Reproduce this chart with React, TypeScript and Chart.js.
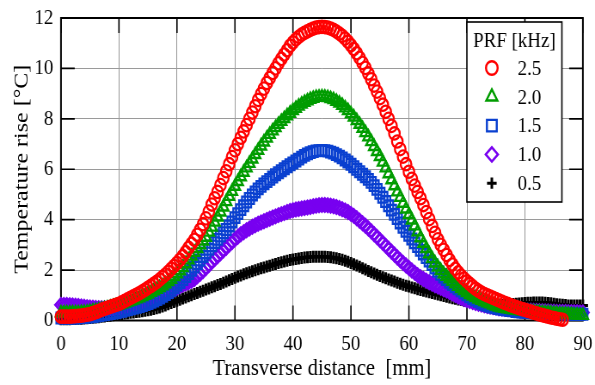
import React, { useEffect, useRef } from "react";
import { Chart, registerables } from "chart.js";

Chart.register(...registerables);

const FONT = "'Liberation Serif', 'Times New Roman', Times, serif";

// ---- data ----
const STEP_MM = 0.5; // sampling step of the transverse distance
const X_TICKS = [0, 10, 20, 30, 40, 50, 60, 70, 80, 90];
const Y_TICKS = [0, 2, 4, 6, 8, 10, 12];
const X_TITLE = "Transverse distance  [mm]";
const Y_TITLE = "Temperature rise [°C]";
const LEGEND_TITLE = "PRF [kHz]";
const PRF_LABELS = ["2.5", "2.0", "1.5", "1.0", "0.5"];

const PRF_25 = [
  0.15, 0.15, 0.15, 0.15, 0.16, 0.17, 0.18, 0.19, 0.21, 0.23, 0.25, 0.29, 0.33, 0.37, 0.42, 0.46, 0.5, 0.54, 0.58, 0.62,
  0.66, 0.72, 0.78, 0.84, 0.9, 0.96, 1.02, 1.08, 1.15, 1.22, 1.3, 1.37, 1.45, 1.53, 1.62, 1.72, 1.82, 1.93, 2.05, 2.16,
  2.28, 2.41, 2.55, 2.71, 2.88, 3.04, 3.2, 3.4, 3.6, 3.82, 4.05, 4.32, 4.6, 4.85, 5.1, 5.37, 5.65, 5.92, 6.2, 6.48,
  6.75, 7.0, 7.25, 7.5, 7.75, 8.0, 8.25, 8.5, 8.75, 8.98, 9.2, 9.42, 9.62, 9.82, 10.0, 10.2, 10.38, 10.55, 10.72, 10.9,
  11.03, 11.15, 11.25, 11.34, 11.41, 11.47, 11.53, 11.58, 11.62, 11.64, 11.65, 11.64, 11.62, 11.58, 11.53, 11.46, 11.38, 11.29, 11.18, 11.06,
  10.92, 10.77, 10.6, 10.42, 10.22, 10.02, 9.8, 9.57, 9.32, 9.08, 8.82, 8.56, 8.28, 8.0, 7.72, 7.42, 7.1, 6.8, 6.5, 6.2,
  5.9, 5.62, 5.35, 5.1, 4.85, 4.58, 4.3, 4.02, 3.75, 3.48, 3.22, 3.0, 2.8, 2.6, 2.4, 2.22, 2.05, 1.91, 1.78, 1.66,
  1.55, 1.45, 1.35, 1.26, 1.18, 1.11, 1.05, 1.0, 0.95, 0.9, 0.85, 0.8, 0.75, 0.7, 0.66, 0.61, 0.57, 0.53, 0.49, 0.45,
  0.42, 0.38, 0.35, 0.31, 0.28, 0.24, 0.21, 0.18, 0.15, 0.12, 0.1, 0.07, 0.05, 0.03,
];

const PRF_20 = [
  0.3, 0.3, 0.3, 0.3, 0.3, 0.3, 0.3, 0.31, 0.32, 0.33, 0.35, 0.37, 0.39, 0.41, 0.44, 0.46, 0.49, 0.52, 0.55, 0.58,
  0.61, 0.65, 0.69, 0.73, 0.77, 0.81, 0.86, 0.9, 0.95, 1.0, 1.05, 1.11, 1.17, 1.23, 1.3, 1.37, 1.45, 1.54, 1.63, 1.74,
  1.85, 1.97, 2.1, 2.25, 2.4, 2.55, 2.7, 2.85, 3.0, 3.15, 3.3, 3.5, 3.7, 3.9, 4.1, 4.3, 4.5, 4.71, 4.92, 5.12,
  5.32, 5.51, 5.7, 5.88, 6.05, 6.23, 6.4, 6.58, 6.75, 6.92, 7.08, 7.23, 7.38, 7.52, 7.65, 7.78, 7.9, 8.01, 8.12, 8.22,
  8.32, 8.41, 8.5, 8.58, 8.65, 8.71, 8.77, 8.81, 8.85, 8.86, 8.87, 8.86, 8.84, 8.8, 8.76, 8.69, 8.62, 8.53, 8.43, 8.32,
  8.2, 8.07, 7.93, 7.78, 7.62, 7.45, 7.28, 7.09, 6.9, 6.7, 6.5, 6.28, 6.05, 5.82, 5.58, 5.34, 5.1, 4.88, 4.65, 4.42,
  4.2, 3.98, 3.75, 3.51, 3.28, 3.06, 2.85, 2.64, 2.45, 2.28, 2.12, 1.98, 1.85, 1.75, 1.65, 1.55, 1.45, 1.35, 1.26, 1.18,
  1.1, 1.03, 0.97, 0.91, 0.85, 0.8, 0.75, 0.7, 0.66, 0.61, 0.57, 0.53, 0.5, 0.48, 0.46, 0.44, 0.42, 0.4, 0.39, 0.37,
  0.36, 0.35, 0.34, 0.33, 0.33, 0.32, 0.31, 0.3, 0.3, 0.29, 0.28, 0.27, 0.26, 0.25, 0.25, 0.24, 0.23, 0.22, 0.21, 0.2, 0.2,
];

const PRF_15 = [
  0.1, 0.1, 0.1, 0.1, 0.1, 0.1, 0.11, 0.12, 0.13, 0.14, 0.15, 0.16, 0.18, 0.2, 0.22, 0.24, 0.26, 0.28, 0.3, 0.32,
  0.35, 0.37, 0.4, 0.43, 0.46, 0.49, 0.52, 0.55, 0.59, 0.63, 0.67, 0.72, 0.77, 0.83, 0.89, 0.96, 1.03, 1.11, 1.2, 1.3,
  1.4, 1.51, 1.62, 1.74, 1.86, 1.99, 2.12, 2.26, 2.4, 2.54, 2.68, 2.82, 2.96, 3.09, 3.22, 3.35, 3.48, 3.61, 3.75, 3.91,
  4.08, 4.24, 4.4, 4.55, 4.7, 4.84, 4.98, 5.1, 5.22, 5.32, 5.42, 5.51, 5.6, 5.69, 5.78, 5.86, 5.94, 6.02, 6.1, 6.18,
  6.25, 6.33, 6.4, 6.48, 6.55, 6.61, 6.66, 6.7, 6.73, 6.74, 6.75, 6.74, 6.72, 6.68, 6.64, 6.58, 6.52, 6.45, 6.37, 6.29,
  6.2, 6.1, 6.0, 5.9, 5.8, 5.7, 5.6, 5.48, 5.35, 5.2, 5.05, 4.89, 4.72, 4.55, 4.38, 4.21, 4.04, 3.87, 3.7, 3.54,
  3.38, 3.23, 3.08, 2.93, 2.78, 2.64, 2.5, 2.36, 2.22, 2.08, 1.95, 1.83, 1.72, 1.62, 1.52, 1.43, 1.34, 1.26, 1.18, 1.1,
  1.02, 0.94, 0.87, 0.81, 0.75, 0.69, 0.64, 0.6, 0.56, 0.53, 0.5, 0.47, 0.45, 0.43, 0.41, 0.39, 0.38, 0.36, 0.35, 0.34,
  0.33, 0.32, 0.32, 0.31, 0.31, 0.3, 0.3, 0.29, 0.29, 0.28, 0.28, 0.28, 0.27, 0.27, 0.27, 0.26, 0.26, 0.25, 0.25, 0.25, 0.25,
];

const PRF_10 = [
  0.62, 0.62, 0.62, 0.61, 0.6, 0.59, 0.58, 0.56, 0.55, 0.53, 0.52, 0.51, 0.5, 0.49, 0.49, 0.49, 0.49, 0.49, 0.5, 0.51,
  0.52, 0.54, 0.56, 0.58, 0.6, 0.63, 0.66, 0.69, 0.72, 0.76, 0.8, 0.84, 0.88, 0.92, 0.97, 1.02, 1.07, 1.12, 1.18, 1.24,
  1.3, 1.36, 1.42, 1.47, 1.52, 1.58, 1.65, 1.75, 1.85, 1.96, 2.08, 2.2, 2.32, 2.44, 2.55, 2.67, 2.78, 2.89, 3.0, 3.11,
  3.22, 3.32, 3.42, 3.5, 3.58, 3.65, 3.72, 3.78, 3.84, 3.89, 3.94, 3.99, 4.04, 4.09, 4.13, 4.18, 4.22, 4.26, 4.3, 4.34,
  4.37, 4.4, 4.42, 4.44, 4.46, 4.48, 4.5, 4.53, 4.55, 4.57, 4.58, 4.58, 4.57, 4.55, 4.53, 4.5, 4.46, 4.41, 4.36, 4.3,
  4.23, 4.15, 4.06, 3.96, 3.86, 3.76, 3.65, 3.54, 3.42, 3.31, 3.19, 3.08, 2.96, 2.85, 2.73, 2.62, 2.5, 2.39, 2.28, 2.18,
  2.08, 1.98, 1.89, 1.8, 1.72, 1.65, 1.58, 1.52, 1.46, 1.4, 1.35, 1.3, 1.24, 1.19, 1.13, 1.07, 1.01, 0.95, 0.9, 0.85,
  0.81, 0.77, 0.73, 0.69, 0.66, 0.63, 0.6, 0.57, 0.55, 0.53, 0.51, 0.49, 0.48, 0.47, 0.46, 0.45, 0.44, 0.43, 0.42, 0.41,
  0.4, 0.39, 0.39, 0.38, 0.38, 0.37, 0.37, 0.36, 0.36, 0.35, 0.35, 0.34, 0.34, 0.34, 0.34, 0.33, 0.33, 0.33, 0.33, 0.32, 0.32,
];

const PRF_05 = [
  0.05, 0.05, 0.05, 0.05, 0.06, 0.06, 0.07, 0.07, 0.08, 0.09, 0.1, 0.11, 0.12, 0.13, 0.15, 0.16, 0.18, 0.19, 0.21, 0.23,
  0.25, 0.26, 0.28, 0.29, 0.31, 0.32, 0.34, 0.35, 0.37, 0.39, 0.41, 0.43, 0.46, 0.49, 0.52, 0.56, 0.6, 0.64, 0.69, 0.73,
  0.78, 0.82, 0.87, 0.91, 0.96, 1.0, 1.05, 1.09, 1.14, 1.18, 1.23, 1.27, 1.32, 1.36, 1.41, 1.45, 1.5, 1.55, 1.6, 1.65,
  1.7, 1.75, 1.79, 1.83, 1.87, 1.91, 1.95, 1.99, 2.03, 2.07, 2.1, 2.14, 2.17, 2.21, 2.24, 2.28, 2.31, 2.34, 2.37, 2.4,
  2.42, 2.44, 2.46, 2.48, 2.5, 2.51, 2.52, 2.53, 2.53, 2.53, 2.53, 2.53, 2.52, 2.51, 2.49, 2.47, 2.44, 2.41, 2.37, 2.33,
  2.28, 2.23, 2.18, 2.13, 2.07, 2.02, 1.96, 1.91, 1.86, 1.81, 1.77, 1.72, 1.68, 1.63, 1.59, 1.55, 1.5, 1.46, 1.42, 1.38,
  1.35, 1.31, 1.28, 1.24, 1.21, 1.18, 1.15, 1.12, 1.09, 1.06, 1.03, 1.0, 0.97, 0.94, 0.91, 0.88, 0.86, 0.83, 0.81, 0.78,
  0.76, 0.74, 0.72, 0.7, 0.68, 0.66, 0.65, 0.64, 0.63, 0.62, 0.62, 0.62, 0.62, 0.62, 0.63, 0.64, 0.65, 0.66, 0.67, 0.68,
  0.69, 0.7, 0.7, 0.71, 0.71, 0.71, 0.71, 0.7, 0.69, 0.68, 0.66, 0.64, 0.63, 0.62, 0.61, 0.6, 0.6, 0.6, 0.6, 0.6, 0.6,
];

const SERIES = [PRF_25, PRF_20, PRF_15, PRF_10, PRF_05];

// ---- styles ----
const COLORS = ["#ff0000", "#009c00", "#0a40d0", "#7800f0", "#000000"];
const STYLES = ["circle", "triangle", "rect", "rectRot", "cross"];
const RADII = [6.2, 6.8, 7.5, 6.5, 6];
const WIDTHS = [2.3, 2.4, 2.3, 2.8, 3];

// canvas is drawn wider and squeezed horizontally, like the reference's aspect
const PAGE_W = 595;
const PAGE_H = 385;
const CANVAS_W = 692;

const toPoints = (vals: number[]) => vals.map((y, i) => ({ x: i * STEP_MM, y }));

function drawMarker(ctx: CanvasRenderingContext2D, style: string, x: number, y: number, r: number) {
  ctx.beginPath();
  if (style === "circle") {
    ctx.arc(x, y, r, 0, Math.PI * 2);
  } else if (style === "triangle") {
    let a = 0;
    ctx.moveTo(x + Math.sin(a) * r, y - Math.cos(a) * r);
    a += (2 * Math.PI) / 3;
    ctx.lineTo(x + Math.sin(a) * r, y - Math.cos(a) * r);
    a += (2 * Math.PI) / 3;
    ctx.lineTo(x + Math.sin(a) * r, y - Math.cos(a) * r);
    ctx.closePath();
  } else if (style === "rect") {
    const s = r * Math.SQRT1_2;
    ctx.rect(x - s, y - s, 2 * s, 2 * s);
  } else if (style === "rectRot") {
    ctx.moveTo(x - r, y);
    ctx.lineTo(x, y - r);
    ctx.lineTo(x + r, y);
    ctx.lineTo(x, y + r);
    ctx.closePath();
  } else {
    ctx.moveTo(x - r, y);
    ctx.lineTo(x + r, y);
    ctx.moveTo(x, y - r);
    ctx.lineTo(x, y + r);
  }
  ctx.stroke();
}

const framePlugin = {
  id: "frameTicks",
  beforeDatasetsDraw(chart: any) {
    const { ctx, chartArea, scales } = chart;
    const { left, right, top, bottom } = chartArea;
    ctx.save();
    ctx.strokeStyle = "#000";
    ctx.lineWidth = 1.6;
    ctx.beginPath();
    X_TICKS.forEach((v) => {
      const px = scales.x.getPixelForValue(v);
      ctx.moveTo(px, bottom);
      ctx.lineTo(px, bottom - 15);
      ctx.moveTo(px, top);
      ctx.lineTo(px, top + 15);
    });
    Y_TICKS.forEach((v) => {
      const py = scales.y.getPixelForValue(v);
      ctx.moveTo(left, py);
      ctx.lineTo(left + 16, py);
      ctx.moveTo(right, py);
      ctx.lineTo(right - 16, py);
    });
    ctx.stroke();
    ctx.lineWidth = 2;
    ctx.strokeRect(left, top, right - left, bottom - top);
    ctx.restore();
  },
};

const legendPlugin = {
  id: "prfLegend",
  afterDraw(chart: any) {
    const ctx: CanvasRenderingContext2D = chart.ctx;
    const bx = 543;
    const by = 22;
    const bw = 110.5;
    const bh = 180;
    ctx.save();
    ctx.fillStyle = "#fff";
    ctx.fillRect(bx, by, bw, bh);
    ctx.strokeStyle = "#000";
    ctx.lineWidth = 1.6;
    ctx.strokeRect(bx, by, bw, bh);
    ctx.fillStyle = "#000";
    ctx.font = `22px ${FONT}`;
    ctx.textBaseline = "middle";
    ctx.textAlign = "center";
    ctx.fillText(LEGEND_TITLE, bx + bw / 2, 41);
    ctx.textAlign = "left";
    PRF_LABELS.forEach((lab, i) => {
      const yy = 68 + i * 28.8;
      ctx.strokeStyle = COLORS[i];
      ctx.lineWidth = i === 4 ? 3 : 2.4;
      drawMarker(ctx, STYLES[i], 572, yy, i === 4 ? 5.6 : RADII[i] + 0.6);
      ctx.fillStyle = "#000";
      ctx.fillText(lab, 602, yy + 1);
    });
    ctx.restore();
  },
};

export default function App() {
  const ref = useRef<HTMLCanvasElement>(null);

  useEffect(() => {
    const canvas = ref.current;
    if (!canvas) return;
    const datasets = SERIES.map((vals, i) => ({
      label: PRF_LABELS[i],
      data: toPoints(vals),
      showLine: false,
      pointStyle: STYLES[i] as any,
      pointRadius: RADII[i],
      pointBorderWidth: WIDTHS[i],
      borderColor: COLORS[i],
      backgroundColor: "rgba(0,0,0,0)",
      pointBackgroundColor: "rgba(0,0,0,0)",
      pointBorderColor: COLORS[i],
      clip: false as any,
    }));

    const chart = new Chart(canvas, {
      type: "scatter",
      data: { datasets },
      options: {
        responsive: false,
        maintainAspectRatio: false,
        devicePixelRatio: 1,
        animation: false,
        events: [],
        layout: { padding: { top: 18, right: 14.1, left: 0, bottom: 0 } },
        plugins: {
          legend: { display: false },
          tooltip: { enabled: false },
        },
        scales: {
          x: {
            type: "linear",
            min: 0,
            max: 90,
            afterFit: (s: any) => {
              s.height = 64.5;
              s.paddingLeft = 0;
              s.paddingRight = 0;
            },
            ticks: {
              stepSize: 10,
              autoSkip: false,
              maxRotation: 0,
              padding: 11,
              color: "#000",
              font: { family: FONT, size: 22 },
            },
            grid: { color: "#9a9a9a", lineWidth: 1, drawTicks: false },
            border: { display: false },
            title: {
              display: true,
              text: X_TITLE,
              color: "#000",
              font: { family: FONT, size: 24 },
              padding: { top: 0, bottom: 2 },
            },
          },
          y: {
            type: "linear",
            min: 0,
            max: 12,
            afterFit: (s: any) => {
              s.width = 70.9;
              s.paddingTop = 0;
              s.paddingBottom = 0;
            },
            ticks: {
              stepSize: 2,
              padding: 9,
              color: "#000",
              font: { family: FONT, size: 22 },
            },
            grid: { color: "#9a9a9a", lineWidth: 1, drawTicks: false },
            border: { display: false },
            title: {
              display: true,
              text: Y_TITLE,
              color: "#000",
              font: { family: FONT, size: 24 },
              padding: { top: 11, bottom: 0 },
            },
          },
        },
      },
      plugins: [framePlugin, legendPlugin],
    });

    return () => chart.destroy();
  }, []);

  return (
    <div style={{ position: "absolute", left: 0, top: 0, width: PAGE_W, height: PAGE_H, background: "#fff" }}>
      <canvas
        ref={ref}
        width={CANVAS_W}
        height={PAGE_H}
        style={{ width: `${PAGE_W}px`, height: `${PAGE_H}px`, display: "block" }}
      />
    </div>
  );
}
